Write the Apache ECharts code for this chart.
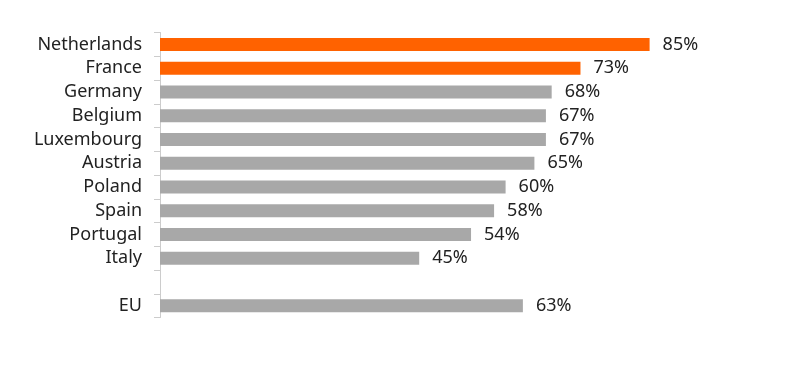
<!DOCTYPE html>
<html><head><meta charset="utf-8">
<script src="https://cdn.jsdelivr.net/npm/echarts@6/dist/echarts.min.js"></script>
<style>html,body{margin:0;padding:0;background:#fff}#c{width:800px;height:368px}</style>
</head><body><div id="c"></div>
<script>
const categories = ['Netherlands','France','Germany','Belgium','Luxembourg','Austria','Poland','Spain','Portugal','Italy','','EU'];
const values = [85,73,68,67,67,65,60,58,54,45,null,63];
const highlighted = ['Netherlands','France'];
const ORANGE = '#FF6200', GREY = '#A8A8A8';
const chart = echarts.init(document.getElementById('c'));
chart.setOption({
  animation:false,
  grid:{left:160,top:32.5,width:576,height:285,containLabel:false},
  xAxis:{type:'value',min:0,max:100,show:false},
  yAxis:{type:'category',data:categories,inverse:true,
    axisLine:{show:true,lineStyle:{color:'#cccccc',width:1}},
    axisTick:{show:true,length:6,lineStyle:{color:'#cccccc'}},
    axisLabel:{margin:18,color:'#222',fontSize:18,fontFamily:'Noto Sans'}
  },
  series:[{type:'bar',barWidth:13,
    data:values.map((v,i)=>({value:v,itemStyle:{color:highlighted.includes(categories[i])?ORANGE:GREY}})),
    label:{show:true,position:'right',distance:13,color:'#222',fontSize:18,fontFamily:'Noto Sans',
      formatter:p=>p.value==null?'':p.value+'%'}
  }]
});
</script></body></html>
